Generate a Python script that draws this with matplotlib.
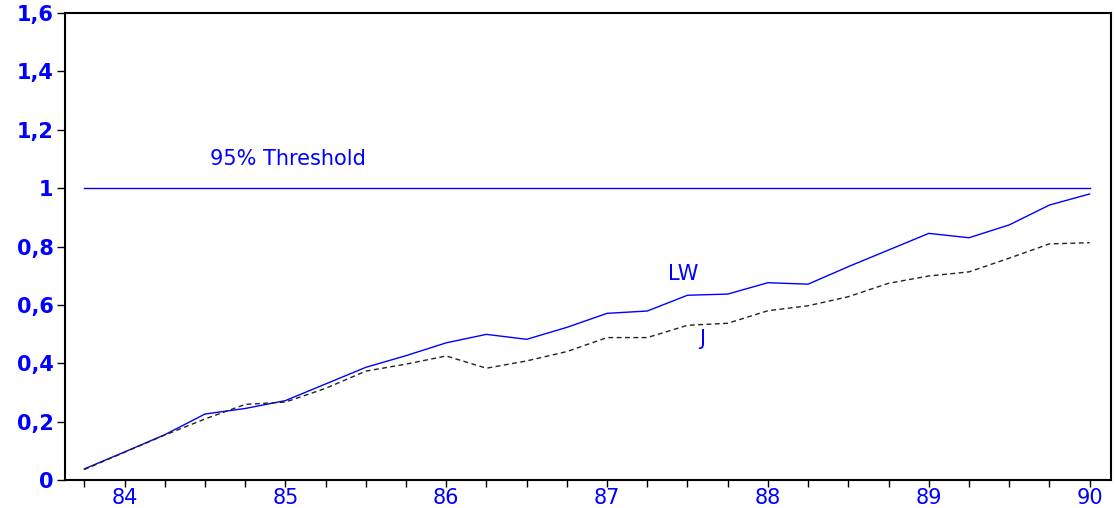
import numpy as np
import matplotlib.pyplot as plt
from matplotlib.ticker import FixedLocator, FuncFormatter

# quarterly observations, 1983Q4 .. 1990Q1 (x in years, 84 = 1984)
quarters = np.arange(83.75, 90.01, 0.25)

lw_vals = [0.038, 0.096, 0.155, 0.226, 0.245, 0.272, 0.329, 0.386, 0.426,
           0.470, 0.499, 0.482, 0.523, 0.571, 0.579, 0.633, 0.637, 0.676,
           0.671, 0.731, 0.788, 0.845, 0.830, 0.874, 0.942, 0.980]
j_vals = [0.036, 0.095, 0.154, 0.209, 0.259, 0.267, 0.314, 0.373, 0.397,
          0.425, 0.383, 0.408, 0.440, 0.488, 0.488, 0.530, 0.537, 0.580,
          0.597, 0.628, 0.674, 0.699, 0.713, 0.760, 0.809, 0.813]
threshold = 1.0

y_ticks = [0, 0.2, 0.4, 0.6, 0.8, 1.0, 1.2, 1.4, 1.6]

blue = "#0000ff"
plt.rcParams['font.family'] = ['DejaVu Sans']

fig = plt.figure(figsize=(11.16, 5.08), dpi=100)
ax = fig.add_axes([0.0578, 0.0551, 0.9373, 0.9193])

ax.plot([quarters[0], quarters[-1]], [threshold, threshold], color=blue, lw=1.0)
ax.plot(quarters, lw_vals, color=blue, lw=1.0)
ax.plot(quarters, j_vals, color="#222222", lw=1.0, dashes=(3.5, 2.5))

ax.text(84.53, 1.10, "95% Threshold", color=blue, fontsize=15, va="center")
ax.text(87.38, 0.706, "LW", color=blue, fontsize=15, va="center")
ax.text(87.57, 0.482, "J", color=blue, fontsize=15, va="center")

ax.set_xlim(83.627, 90.13)
ax.set_ylim(0, 1.6)

ax.xaxis.set_major_locator(FixedLocator(quarters))
ax.xaxis.set_major_formatter(FuncFormatter(
    lambda v, p: str(int(round(v))) if abs(v - round(v)) < 1e-6 else ""))
ax.yaxis.set_major_locator(FixedLocator(y_ticks))
ax.yaxis.set_major_formatter(FuncFormatter(
    lambda v, p: ("%g" % round(v, 1)).replace(".", ",")))

ax.tick_params(axis="x", direction="out", length=5, width=1, colors="black",
               labelcolor=blue, labelsize=15, pad=1)
ax.tick_params(axis="y", direction="out", length=6, width=1, colors="black",
               labelcolor=blue, labelsize=15, pad=2)
for lab in ax.get_yticklabels():
    lab.set_fontweight("bold")

for s in ax.spines.values():
    s.set_linewidth(1.5)
    s.set_color("black")

fig.savefig("out.png", dpi=100)
